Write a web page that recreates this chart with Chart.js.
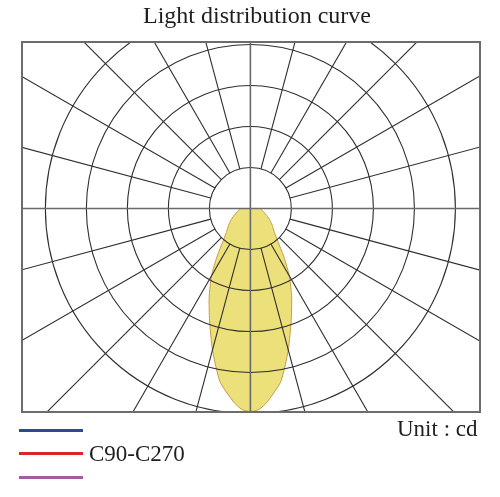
<!DOCTYPE html>
<html>
<head>
<meta charset="utf-8">
<script src="https://cdn.jsdelivr.net/npm/chart.js@4/dist/chart.umd.min.js"></script>
<style>
  body { margin: 0; background: #fff; }
  #wrap { position: relative; width: 500px; height: 497px; font-family: "Liberation Serif", "DejaVu Serif", serif; color: #1e1e1e; }
  canvas { position: absolute; left: 0; top: 0; }
  .txt { position: absolute; white-space: nowrap; }
  .key { position: absolute; left: 19px; width: 64px; height: 3px; }
</style>
</head>
<body>
<div id="wrap">
  <canvas id="ldc" width="500" height="497"></canvas>
  <div class="txt" id="title" style="left:143px; top:3px; font-size:24px; line-height:24px;"></div>
  <div class="txt" id="unit" style="left:397px; top:417px; font-size:23px; line-height:23px;"></div>
  <div id="legend"></div>
</div>
<script>
  // intensity (cd) by angle from nadir, C90-C270 plane (symmetric)
  const angles = [0, 2.5, 5, 10, 15, 20, 25, 30, 35, 40, 45, 50, 55, 60, 65, 70, 75, 80, 85, 90];
  const c90c270 = [495, 490, 473, 428, 357, 291, 238, 190, 141, 104, 83, 72, 63, 54, 46, 39, 34, 30, 27, 25];

  const rings = [100, 200, 300, 400, 500];
  const spokeStep = 15;

  const legendNames = ["", "C90-C270", ""];
  const legendColors = ["#2c4a94", "#d8262e", "#a45c9e"];

  document.getElementById("title").textContent = "Light distribution curve";
  document.getElementById("unit").textContent = "Unit : cd";

  let legendHtml = "";
  legendNames.forEach((name, i) => {
    let y = 430 + i * 23.5;
    legendHtml += `<div class="key" style="top:${y - 1.5}px;background:${legendColors[i]}"></div>`;
    if (name) {
      legendHtml += `<div class="txt" style="left:89px;top:${y - 12}px;font-size:23px;line-height:23px;">${name}</div>`;
    }
  });
  document.getElementById("legend").innerHTML = legendHtml;

  // left side going down, then right side going up
  let lobe = [];
  for (let i = angles.length - 1; i >= 0; i--) {
    let a = angles[i] * Math.PI / 180;
    lobe.push({ x: -c90c270[i] * Math.sin(a), y: -c90c270[i] * Math.cos(a) });
  }
  for (let i = 1; i < angles.length; i++) {
    let a = angles[i] * Math.PI / 180;
    lobe.push({ x: c90c270[i] * Math.sin(a), y: -c90c270[i] * Math.cos(a) });
  }

  const polarGrid = {
    id: "polarGrid",
    afterDatasetsDraw(chart) {
      const { ctx, chartArea: area, scales } = chart;
      const cx = scales.x.getPixelForValue(0);
      const cy = scales.y.getPixelForValue(0);
      const px = v => scales.x.getPixelForValue(v) - cx;

      ctx.save();
      ctx.beginPath();
      ctx.rect(area.left, area.top, area.right - area.left, area.bottom - area.top);
      ctx.clip();

      ctx.strokeStyle = "#2e2e2e";
      ctx.lineWidth = 1.1;
      rings.forEach(r => {
        ctx.beginPath();
        ctx.arc(cx, cy, px(r), 0, Math.PI * 2);
        ctx.stroke();
      });

      const inner = px(rings[0]);
      for (let d = 0; d < 360; d += spokeStep) {
        if (d % 90 === 0) continue;
        let a = d * Math.PI / 180;
        ctx.beginPath();
        ctx.moveTo(cx + inner * Math.cos(a), cy + inner * Math.sin(a));
        ctx.lineTo(cx + 1000 * Math.cos(a), cy + 1000 * Math.sin(a));
        ctx.stroke();
      }

      ctx.strokeStyle = "#6a6a6a";
      ctx.lineWidth = 1.6;
      ctx.beginPath();
      ctx.moveTo(area.left, cy);
      ctx.lineTo(area.right, cy);
      ctx.moveTo(cx, area.top);
      ctx.lineTo(cx, area.bottom);
      ctx.stroke();
      ctx.restore();

      ctx.save();
      ctx.strokeStyle = "#6c6c6c";
      ctx.lineWidth = 2;
      ctx.strokeRect(area.left, area.top, area.right - area.left, area.bottom - area.top);
      ctx.restore();
    }
  };

  new Chart("ldc", {
    type: "scatter",
    data: {
      datasets: [{
        label: "C90-C270",
        data: lobe,
        showLine: true,
        fill: "shape",
        tension: 0.2,
        borderColor: "#c79a45",
        borderWidth: 1,
        backgroundColor: "#ece07a",
        pointRadius: 0
      }]
    },
    options: {
      responsive: false,
      animation: false,
      layout: { padding: { left: 22, right: 20, top: 42, bottom: 85 } },
      scales: {
        x: { type: "linear", min: -557, max: 560, display: false },
        y: { type: "linear", min: -496, max: 406, display: false }
      },
      plugins: {
        legend: { display: false },
        tooltip: { enabled: false }
      }
    },
    plugins: [polarGrid]
  });
</script>
</body>
</html>
